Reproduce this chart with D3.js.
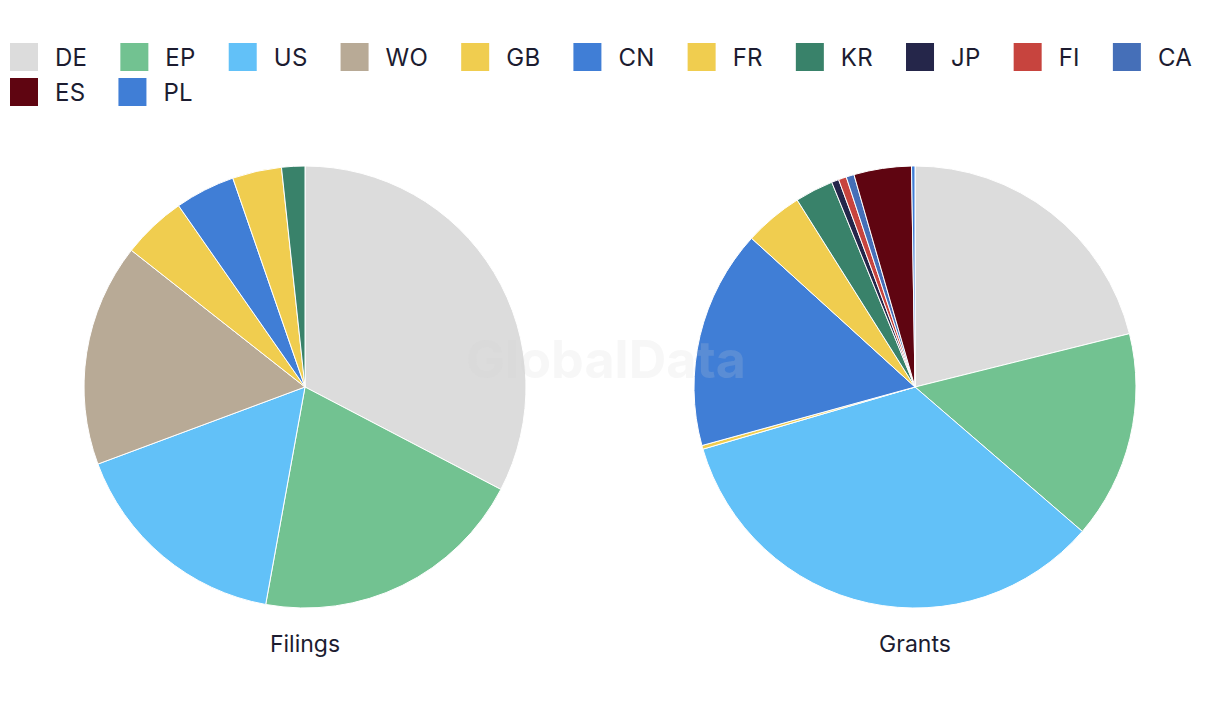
<!DOCTYPE html>
<html>
<head>
<meta charset="utf-8">
<script src="https://cdn.jsdelivr.net/npm/d3@7"></script>
<style>
  html, body { margin: 0; padding: 0; background: #fff; }
  svg { display: block; }
  text { font-family: Inter, "Noto Sans", sans-serif; }
</style>
</head>
<body>
<svg id="chart" width="1220" height="720"></svg>
<script>
// Data
const categories = ["DE", "EP", "US", "WO", "GB", "CN", "FR", "KR", "JP", "FI", "CA", "ES", "PL"];
const colors = ["#dcdcdc", "#72c291", "#62c1f8", "#b8aa96", "#f0cd4f", "#407ed6", "#f0cd4f", "#39826a", "#25264a", "#c7443e", "#456fb8", "#5f0511", "#407ed6"];
const filingsValues = [32.7, 20.2, 16.5, 16.3, 4.7, 4.4, 3.6, 1.7, 0, 0, 0, 0, 0];
const grantsValues = [21.1, 15.2, 34.1, 0, 0.27, 16.0, 4.3, 2.8, 0.53, 0.58, 0.58, 4.2, 0.25];
const pieTitles = ["Filings", "Grants"];

const svg = d3.select("#chart");
const textColor = "#1c1c30";
const color = d3.scaleOrdinal().domain(categories).range(colors);

// Legend
const legend = svg.append("g");
const sw = 28, gapText = 17, padAfter = 33, rowH = 35, maxW = 1210;
let lx = 10, ly = 43;
categories.forEach((c, i) => {
  const g = legend.append("g");
  const t = g.append("text")
    .attr("x", sw + gapText)
    .attr("y", 23)
    .attr("font-size", 24)
    .attr("letter-spacing", 0.3)
    .attr("fill", textColor)
    .text(c);
  const tw = t.node().getComputedTextLength();
  const w = sw + gapText + tw + padAfter;
  if (lx + sw + gapText + tw > maxW) { lx = 10; ly += rowH; }
  g.attr("transform", `translate(${lx},${ly})`);
  g.insert("rect", "text")
    .attr("width", sw).attr("height", sw)
    .attr("fill", color(c));
  lx += w;
});

// Pies
const pie = d3.pie().sort(null).value(d => d.v);
const radius = 221;
const arc = d3.arc().innerRadius(0).outerRadius(radius);
const centers = [[305, 387], [915, 387]];
[filingsValues, grantsValues].forEach((vals, k) => {
  const data = categories.map((c, i) => ({ c, v: vals[i] }));
  const g = svg.append("g").attr("transform", `translate(${centers[k][0]},${centers[k][1]})`);
  g.selectAll("path")
    .data(pie(data).filter(d => d.data.v > 0))
    .join("path")
    .attr("d", arc)
    .attr("fill", d => color(d.data.c))
    .attr("stroke", "#fff")
    .attr("stroke-width", 1);
  svg.append("text")
    .attr("x", centers[k][0])
    .attr("y", 652)
    .attr("text-anchor", "middle")
    .attr("font-size", 23)
    .attr("fill", textColor)
    .text(pieTitles[k]);
});

// Watermark
svg.append("text")
  .attr("x", 606)
  .attr("y", 378)
  .attr("text-anchor", "middle")
  .attr("font-size", 52)
  .attr("font-weight", 700)
  .attr("fill", "#d0d0d0")
  .attr("fill-opacity", 0.18)
  .text("GlobalData");
</script>
</body>
</html>
